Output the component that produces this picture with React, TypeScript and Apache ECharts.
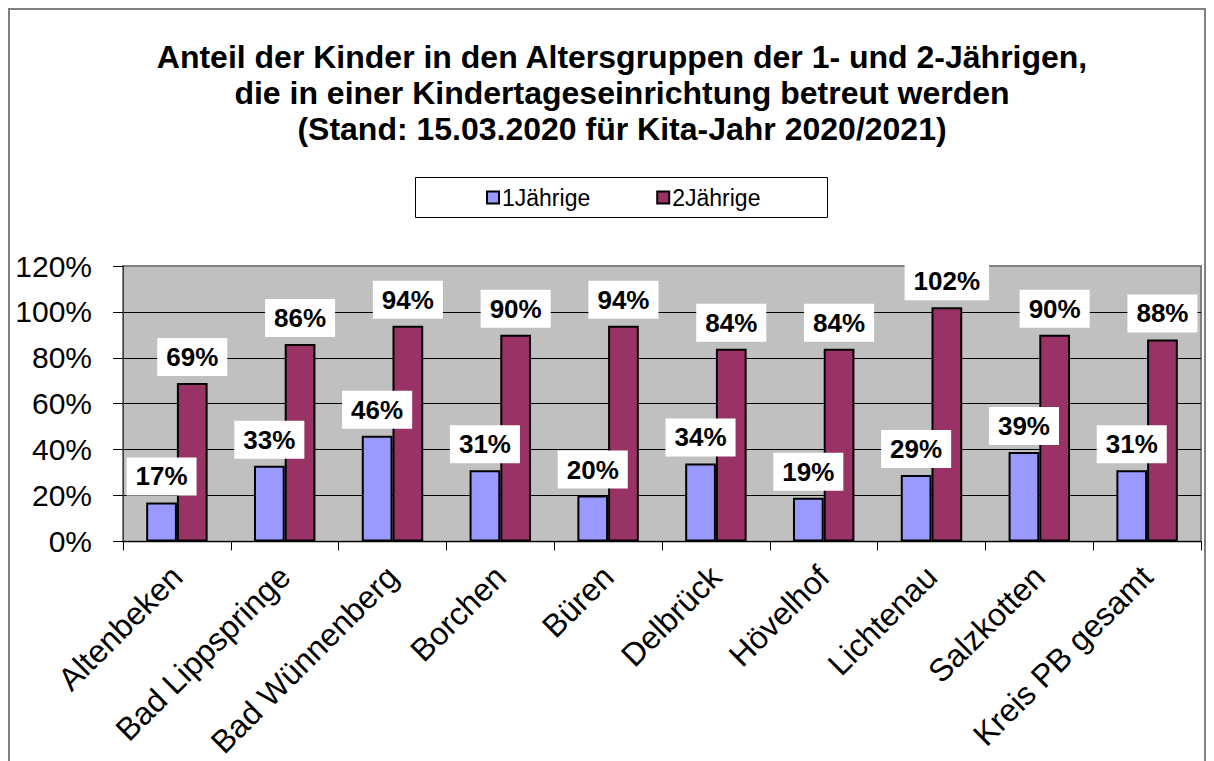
import React, { useEffect, useRef } from "react";
import * as echarts from "echarts";

const titleLines = [
  "Anteil der Kinder in den Altersgruppen der 1- und 2-Jährigen,",
  "die in einer Kindertageseinrichtung betreut werden",
  "(Stand: 15.03.2020 für Kita-Jahr 2020/2021)",
];
const categories = [
  "Altenbeken",
  "Bad Lippspringe",
  "Bad Wünnenberg",
  "Borchen",
  "Büren",
  "Delbrück",
  "Hövelhof",
  "Lichtenau",
  "Salzkotten",
  "Kreis PB gesamt",
];
const seriesNames = ["1Jährige", "2Jährige"];
const oneYear = [17, 33, 46, 31, 20, 34, 19, 29, 39, 31];
const twoYear = [69, 86, 94, 90, 94, 84, 84, 102, 90, 88];
const yTicks = { min: 0, max: 120, interval: 20 };

const FONT = "'Liberation Sans', Arial, Helvetica, sans-serif";

export default function App() {
  const ref = useRef<HTMLDivElement>(null);
  useEffect(() => {
    document.documentElement.style.overflow = "hidden";
    const chart = echarts.init(ref.current!, null, { renderer: "svg" });
    const labelCfg = {
      show: true,
      position: "top",
      distance: 7,
      formatter: "{c}%",
      backgroundColor: "#ffffff",
      padding: [6, 9, 6, 9],
      color: "#000",
      fontFamily: FONT,
      fontWeight: "bold",
      fontSize: 26,
      lineHeight: 26,
    };
    chart.setOption({
      animation: false,
      backgroundColor: "#ffffff",
      textStyle: { fontFamily: FONT },
      graphic: [
        {
          type: "rect",
          z: 0,
          shape: { x: 1, y: 1, width: 1196, height: 900 },
          style: { fill: "none", stroke: "#808080", lineWidth: 2 },
        },
        {
          type: "rect",
          z: 0,
          shape: { x: 407.5, y: 169.5, width: 412, height: 40 },
          style: { fill: "#fff", stroke: "#000", lineWidth: 1 },
        },
        {
          type: "text",
          x: 614,
          y: 31,
          z: 5,
          style: {
            text: titleLines.join("\n"),
            textAlign: "center",
            textVerticalAlign: "top",
            font: `bold 32px ${FONT}`,
            lineHeight: 36,
            fill: "#000",
          },
        },
      ],
      legend: {
        left: 478,
        top: 178,
        padding: 0,
        itemWidth: 12,
        itemHeight: 12,
        itemGap: 66,
        icon: "rect",
        z: 10,
        textStyle: { fontSize: 23, color: "#000", fontFamily: FONT, padding: [0, 0, 0, -2] },
        data: seriesNames,
      },
      grid: {
        left: 115,
        top: 258,
        width: 1078,
        height: 277,
        show: true,
        backgroundColor: "#c0c0c0",
        borderColor: "#808080",
        borderWidth: 2,
      },
      xAxis: {
        type: "category",
        data: categories,
        axisLine: { show: true, lineStyle: { color: "#000", width: 1 } },
        axisTick: { show: true, length: 9, alignWithLabel: false, lineStyle: { color: "#000" } },
        axisLabel: {
          rotate: 45,
          interval: 0,
          margin: 30,
          fontSize: 32,
          color: "#000",
          fontFamily: FONT,
        },
      },
      yAxis: {
        type: "value",
        min: yTicks.min,
        max: yTicks.max,
        interval: yTicks.interval,
        axisLine: { show: true, lineStyle: { color: "#404040", width: 1 } },
        axisTick: { show: true, length: 10, lineStyle: { color: "#000" } },
        axisLabel: {
          formatter: "{value}%",
          margin: 31,
          fontSize: 30,
          color: "#000",
          fontFamily: FONT,
        },
        splitLine: { show: true, showMaxLine: false, lineStyle: { color: "#000", width: 1 } },
      },
      series: [
        {
          name: seriesNames[0],
          type: "bar",
          data: oneYear,
          barGap: "0%",
          barCategoryGap: "43%",
          itemStyle: { color: "#9999ff", borderColor: "#000", borderWidth: 2 },
          label: labelCfg,
          z: 3,
        },
        {
          name: seriesNames[1],
          type: "bar",
          data: twoYear,
          barGap: "0%",
          barCategoryGap: "43%",
          itemStyle: { color: "#993366", borderColor: "#000", borderWidth: 2 },
          label: labelCfg,
          z: 3,
        },
      ],
    });
    return () => chart.dispose();
  }, []);
  return <div ref={ref} style={{ width: 1198, height: 753 }} />;
}
